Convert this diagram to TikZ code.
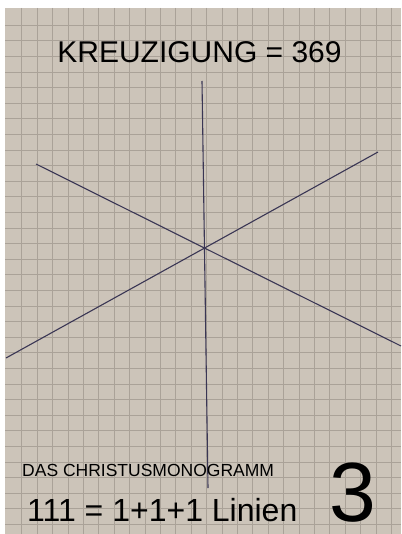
\documentclass[tikz,border=0pt]{standalone}
\usepackage{fontspec}
\setmainfont{Liberation Sans}
\definecolor{paper}{RGB}{204,196,185}
\definecolor{gridline}{RGB}{170,162,152}
\definecolor{ink}{RGB}{58,54,84}
\begin{document}
\begin{tikzpicture}[
    x=1pt,y=-1pt,
    raster/.style={draw=gridline,line width=0.8pt},
    stroke/.style={draw=ink,line width=1.1pt},
    lbl/.style={inner sep=0pt,anchor=base west,text=black}
]
    \useasboundingbox (0,0) rectangle (401,534);
    \fill[white] (0,0) rectangle (401,534);
    \fill[paper] (5,8) rectangle (401,534);

    % squared paper
    \begin{scope}
        \clip (5,8) rectangle (401,534);
        \foreach \i in {1,...,25}
            \draw[raster] ({6.3+15.4*\i},8) -- ++(0,526);
        \foreach \j in {1,...,33}
            \draw[raster] (5,{9.6+15.6*\j}) -- ++(396,0);
    \end{scope}

    % the three lines
    \coordinate (v1) at (202,81);
    \coordinate (v2) at (208,488);
    \coordinate (a1) at (36,164);
    \coordinate (a2) at (401,346);
    \coordinate (b1) at (378,152);
    \coordinate (b2) at (6,358);
    \draw[stroke] (v1) -- (v2);
    \draw[stroke] (a1) -- (a2);
    \draw[stroke] (b1) -- (b2);

    \node[inner sep=0pt,anchor=base,font=\fontsize{30}{32}\selectfont] (title) at (199.5,63) {KREUZIGUNG = 369};
    \node[lbl,font=\fontsize{17.5}{20}\selectfont] (mono) at (22,476) {DAS CHRISTUSMONOGRAMM};
    \node[lbl,font=\fontsize{32}{34}\selectfont] (count) at (27,521) {111 = 1+1+1 Linien};
    \node[lbl,font=\fontsize{84}{88}\selectfont] (three) at (329,521) {3};
\end{tikzpicture}
\end{document}
